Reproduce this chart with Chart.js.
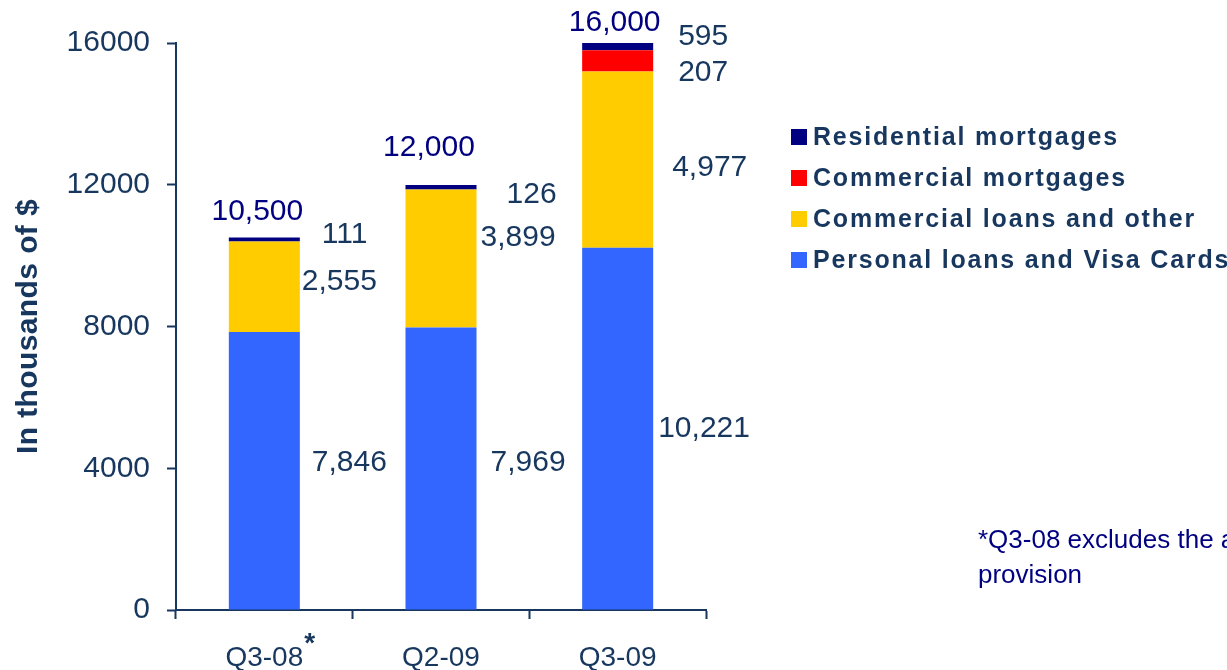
<!DOCTYPE html>
<html>
<head>
<meta charset="utf-8">
<title>Loan losses by portfolio</title>
<script src="https://cdn.jsdelivr.net/npm/chart.js@4.4.1/dist/chart.umd.min.js"></script>
<style>
    html, body {
        margin: 0;
        padding: 0;
        background: #ffffff;
        overflow: hidden;
    }
    #wrap {
        position: relative;
        width: 1227px;
        height: 670px;
        overflow: hidden;
        font-family: "Liberation Sans", Arial, sans-serif;
    }
    #legend {
        position: absolute;
        left: 791px;
        top: 116px;
        white-space: nowrap;
    }
    .legend-row {
        height: 41px;
        display: flex;
        align-items: center;
        font-weight: bold;
        font-size: 25px;
        letter-spacing: 1.8px;
        color: #17375e;
    }
    .legend-box {
        width: 16px;
        height: 16px;
        margin-right: 6px;
        flex: none;
    }
    #footnote {
        position: absolute;
        left: 978px;
        top: 522px;
        font-size: 26px;
        line-height: 35px;
        color: #000080;
        white-space: nowrap;
    }
</style>
</head>
<body>
<div id="wrap">
    <canvas id="lossChart" width="1227" height="670"></canvas>
    <div id="legend"></div>
    <div id="footnote">*Q3-08 excludes the a<br>provision</div>
</div>
<script>
document.addEventListener('DOMContentLoaded', function() {
    const categories = ['Q3-08', 'Q2-09', 'Q3-09'];
    const personalLoans = [7846, 7969, 10221];
    const commercialLoans = [2555, 3899, 4977];
    const commercialMortgages = [0, 0, 595];
    const residentialMortgages = [111, 126, 207];
    const totals = [10500, 12000, 16000];
    const yTicks = [0, 4000, 8000, 12000, 16000];

    const textColor = '#17375e';
    const totalColor = '#000080';
    const fontFamily = '"Liberation Sans", Arial, sans-serif';

    // Value label nudges in pixels: [from bar's right edge, from segment middle]
    const segmentOffsets = [
        [[12, -8], [14, -6], [5, 0]],
        [[2, -5], [4, -21], [19, 8]],
        [null, null, [25, -24]],
        [[22, -5], [30, 8], [25, 26]]
    ];
    // Total label nudges: [from bar centre, from bar top]
    const totalOffsets = [[-7, -26], [-12, -37], [-3, -20]];

    const series = [
        { label: 'Personal loans and Visa Cards', data: personalLoans, color: '#3366ff' },
        { label: 'Commercial loans and other', data: commercialLoans, color: '#ffcc00' },
        { label: 'Commercial mortgages', data: commercialMortgages, color: '#ff0000' },
        { label: 'Residential mortgages', data: residentialMortgages, color: '#000080' }
    ];

    const formatNumber = v => String(v).replace(/\B(?=(\d{3})+(?!\d))/g, ',');

    // Numbers beside each segment, totals above each stack, footnote star
    const barLabels = {
        id: 'barLabels',
        afterDraw(chart) {
            const ctx = chart.ctx;
            ctx.save();
            ctx.textBaseline = 'middle';
            ctx.font = '30px ' + fontFamily;
            ctx.fillStyle = textColor;
            ctx.textAlign = 'left';
            chart.data.datasets.forEach((ds, di) => {
                const meta = chart.getDatasetMeta(di);
                meta.data.forEach((bar, i) => {
                    const v = ds.data[i];
                    const off = segmentOffsets[di][i];
                    if (!v || !off) return;
                    const p = bar.getProps(['x', 'y', 'base', 'width'], true);
                    const mid = (p.y + p.base) / 2;
                    ctx.fillText(formatNumber(v), p.x + p.width / 2 + off[0], mid + off[1]);
                });
            });

            const topMeta = chart.getDatasetMeta(chart.data.datasets.length - 1);
            ctx.fillStyle = totalColor;
            ctx.textAlign = 'center';
            topMeta.data.forEach((bar, i) => {
                const p = bar.getProps(['x', 'y'], true);
                ctx.fillText(formatNumber(totals[i]), p.x + totalOffsets[i][0], p.y + totalOffsets[i][1]);
            });

            const xScale = chart.scales.x;
            ctx.fillStyle = textColor;
            ctx.textAlign = 'left';
            ctx.textBaseline = 'alphabetic';
            ctx.font = 'bold 28px ' + fontFamily;
            ctx.fillText('*', xScale.getPixelForTick(0) + 40, 652);

            // Rotated y axis title
            ctx.translate(29, (chart.chartArea.top + chart.chartArea.bottom) / 2);
            ctx.rotate(-Math.PI / 2);
            ctx.textAlign = 'center';
            ctx.textBaseline = 'middle';
            ctx.font = 'bold 30px ' + fontFamily;
            if ('letterSpacing' in ctx) ctx.letterSpacing = '0.4px';
            ctx.fillText('In thousands of $', 0, 0);
            ctx.restore();
        }
    };

    const ctx = document.getElementById('lossChart').getContext('2d');
    new Chart(ctx, {
        type: 'bar',
        data: {
            labels: categories,
            datasets: series.map(s => ({
                label: s.label,
                data: s.data,
                backgroundColor: s.color,
                borderWidth: 0,
                barPercentage: 0.402,
                categoryPercentage: 1
            }))
        },
        options: {
            responsive: false,
            animation: false,
            layout: {
                padding: { top: 43, right: 521, bottom: 0, left: 0 }
            },
            plugins: {
                legend: { display: false },
                tooltip: { enabled: false }
            },
            scales: {
                x: {
                    stacked: true,
                    grid: {
                        offset: true,
                        drawOnChartArea: false,
                        tickLength: 9,
                        tickColor: textColor,
                        tickWidth: 2
                    },
                    border: { color: textColor, width: 2 },
                    ticks: {
                        color: textColor,
                        font: { family: fontFamily, size: 28 },
                        padding: 22
                    },
                    afterFit: scale => { scale.height = 60; }
                },
                y: {
                    stacked: true,
                    min: 0,
                    max: 16000,
                    afterBuildTicks: scale => {
                        scale.ticks = yTicks.map(v => ({ value: v }));
                    },
                    grid: {
                        drawOnChartArea: false,
                        tickLength: 9,
                        tickColor: textColor,
                        tickWidth: 2
                    },
                    border: { color: textColor, width: 2 },
                    ticks: {
                        color: textColor,
                        font: { family: fontFamily, size: 30 },
                        padding: 17,
                        callback: v => String(v)
                    },
                    afterFit: scale => { scale.width = 176; }
                }
            }
        },
        plugins: [barLabels]
    });

    // Legend, top entry first
    const legend = document.getElementById('legend');
    series.slice().reverse().forEach(s => {
        const row = document.createElement('div');
        row.classList.add('legend-row');
        row.innerHTML = `<span class="legend-box" style="background:${s.color}"></span><span>${s.label}</span>`;
        legend.appendChild(row);
    });
});
</script>
</body>
</html>
